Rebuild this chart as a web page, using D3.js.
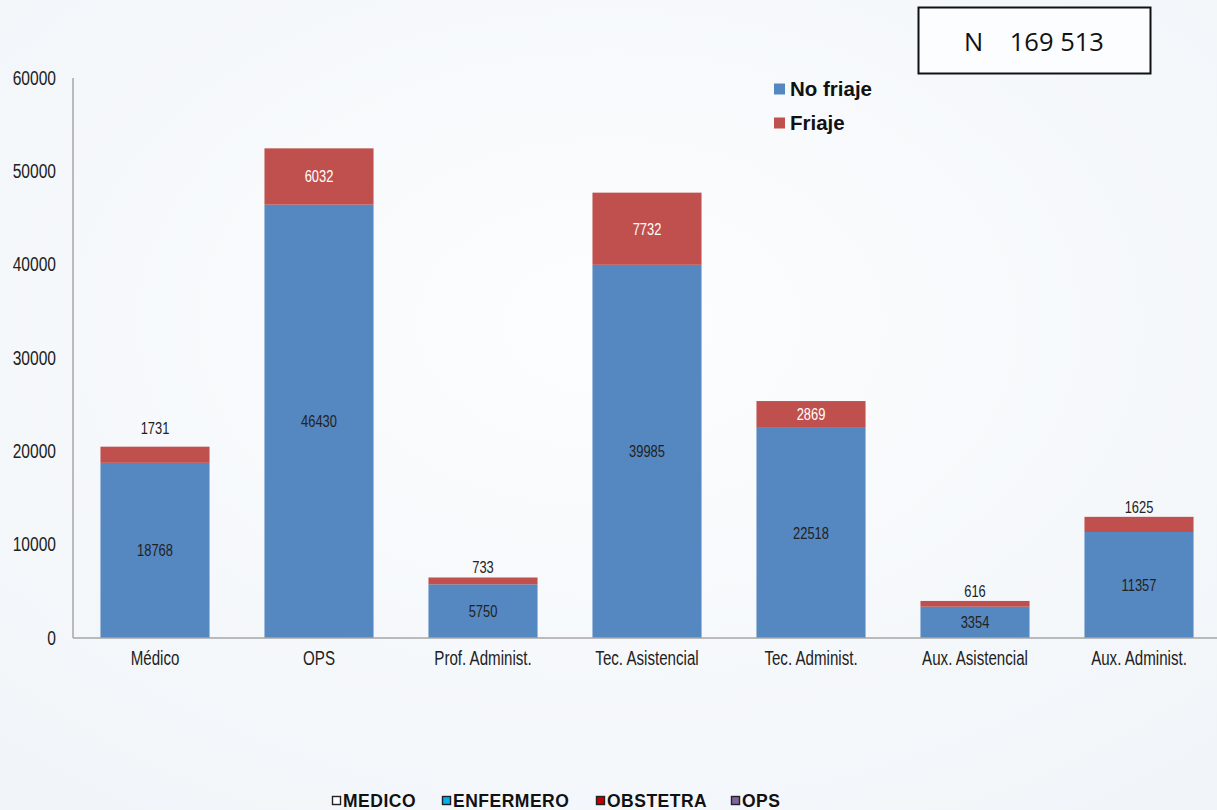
<!DOCTYPE html>
<html><head><meta charset="utf-8">
<script src="https://cdn.jsdelivr.net/npm/d3@7"></script>
<style>
html,body{margin:0;padding:0;background:#f6f8fb;}
svg{display:block;}
</style></head>
<body>
<script>
const categories = ["Médico","OPS","Prof. Administ.","Tec. Asistencial","Tec. Administ.","Aux. Asistencial","Aux. Administ."];
const noFriaje = [18768,46430,5750,39985,22518,3354,11357];
const friaje = [1731,6032,733,7732,2869,616,1625];
const yTicks = [0,10000,20000,30000,40000,50000,60000];
const seriesNames = ["No friaje","Friaje"];
const bottomLegend = ["MEDICO","ENFERMERO","OBSTETRA","OPS"];
const bottomLegendColors = ["#ffffff","#00b0f0","#c00000","#8064a2"];
const totalLabel = "N    169 513";

const W=1217,H=810;
const sans = "'Liberation Sans',Arial,sans-serif";
const svg=d3.select("body").append("svg").attr("width",W).attr("height",H);
const defs=svg.append("defs");
const g0=defs.append("radialGradient").attr("id","bg").attr("cx","50%").attr("cy","40%").attr("r","75%");
g0.append("stop").attr("offset","0%").attr("stop-color","#fcfdfe");
g0.append("stop").attr("offset","100%").attr("stop-color","#f1f5f9");
svg.append("rect").attr("width",W).attr("height",H).attr("fill","url(#bg)");

const x0=73, yBase=638, yTop=78;
const x=d3.scaleBand().domain(categories).range([x0,x0+7*164]).paddingInner(0.335).paddingOuter(0.1675);
const y=d3.scaleLinear().domain([0,60000]).range([yBase,yTop]);
const colors=["#5587c0","#c0504d"];

// y axis labels
const yl=svg.append("g").selectAll("g").data(yTicks).join("g")
 .attr("transform",d=>`translate(56,${y(d)})`);
yl.append("text").attr("transform","scale(0.8,1)").attr("text-anchor","end").attr("dy","0.35em")
 .attr("font-family",sans).attr("font-size",19.5).attr("fill","#222").text(d=>d);

// bars
const data=categories.map((c,i)=>({c,a:noFriaje[i],b:friaje[i]}));
const bars=svg.append("g");
bars.selectAll("rect.a").data(data).join("rect").attr("class","a")
 .attr("x",d=>x(d.c)).attr("width",x.bandwidth())
 .attr("y",d=>y(d.a)).attr("height",d=>y(0)-y(d.a)).attr("fill",colors[0]);
bars.selectAll("rect.b").data(data).join("rect").attr("class","b")
 .attr("x",d=>x(d.c)).attr("width",x.bandwidth())
 .attr("y",d=>y(d.a+d.b)).attr("height",d=>y(d.a)-y(d.a+d.b)).attr("fill",colors[1]);

// axis lines
svg.append("line").attr("x1",x0).attr("x2",x0).attr("y1",yTop).attr("y2",yBase).attr("stroke","#a6a6a6").attr("stroke-width",1.5);
svg.append("line").attr("x1",x0).attr("x2",W).attr("y1",yBase).attr("y2",yBase).attr("stroke","#a6a6a6").attr("stroke-width",1.5);

// data labels
const segH=d=>y(d.a)-y(d.a+d.b);
const la=svg.append("g").selectAll("g").data(data).join("g")
 .attr("transform",d=>`translate(${x(d.c)+x.bandwidth()/2},${(y(0)+y(d.a))/2})`);
la.append("text").attr("transform","scale(0.76,1)").attr("text-anchor","middle").attr("dy","0.35em")
 .attr("font-family",sans).attr("font-size",17).attr("fill","#222").text(d=>d.a);
const lb=svg.append("g").selectAll("g").data(data).join("g")
 .attr("transform",d=>{const cy = segH(d)>20 ? (y(d.a)+y(d.a+d.b))/2 : y(d.a+d.b)-(d.c==="Médico"?19:10);
   return `translate(${x(d.c)+x.bandwidth()/2},${cy})`;});
lb.append("text").attr("transform","scale(0.76,1)").attr("text-anchor","middle").attr("dy","0.35em")
 .attr("font-family",sans).attr("font-size",17).attr("fill",d=>segH(d)>20?"#ffffff":"#222").text(d=>d.b);

// x labels
const xl=svg.append("g").selectAll("g").data(categories).join("g")
 .attr("transform",d=>`translate(${x(d)+x.bandwidth()/2},658)`);
xl.append("text").attr("transform","scale(0.72,1)").attr("text-anchor","middle").attr("dy","0.35em")
 .attr("font-family",sans).attr("font-size",21).attr("fill","#222").text(d=>d);

// legend
const lg=svg.append("g");
seriesNames.forEach((s,i)=>{
  const yy=89+i*34;
  lg.append("rect").attr("x",774).attr("y",yy-5.5).attr("width",11).attr("height",11).attr("fill",colors[i]);
  lg.append("text").attr("x",790).attr("y",yy).attr("dy","0.36em").attr("font-family",sans)
   .attr("font-weight","bold").attr("font-size",20.5).attr("fill","#111").text(s);
});

// N box
svg.append("rect").attr("x",918.5).attr("y",7.5).attr("width",232).attr("height",66).attr("fill","#fcfdfe").attr("stroke","#111").attr("stroke-width",2);
svg.append("text").attr("x",1034).attr("y",42).attr("dy","0.35em").attr("text-anchor","middle")
 .attr("font-family","'Open Sans','Noto Sans',sans-serif").attr("font-size",25.5).attr("fill","#111")
 .style("white-space","pre").text(totalLabel);

// bottom legend
const bl=svg.append("g").attr("font-family",sans).attr("font-weight","bold").attr("font-size",17.5).attr("letter-spacing",0.5).attr("fill","#111");
const blx=[332,442,596,731];
bottomLegend.forEach((s,i)=>{
  bl.append("rect").attr("x",blx[i]+0.5).attr("y",796.5).attr("width",8).attr("height",8).attr("fill",bottomLegendColors[i]).attr("stroke","#222").attr("stroke-width",1.4);
  bl.append("text").attr("x",blx[i]+11).attr("y",801).attr("dy","0.36em").text(s);
});
</script>
</body></html>
